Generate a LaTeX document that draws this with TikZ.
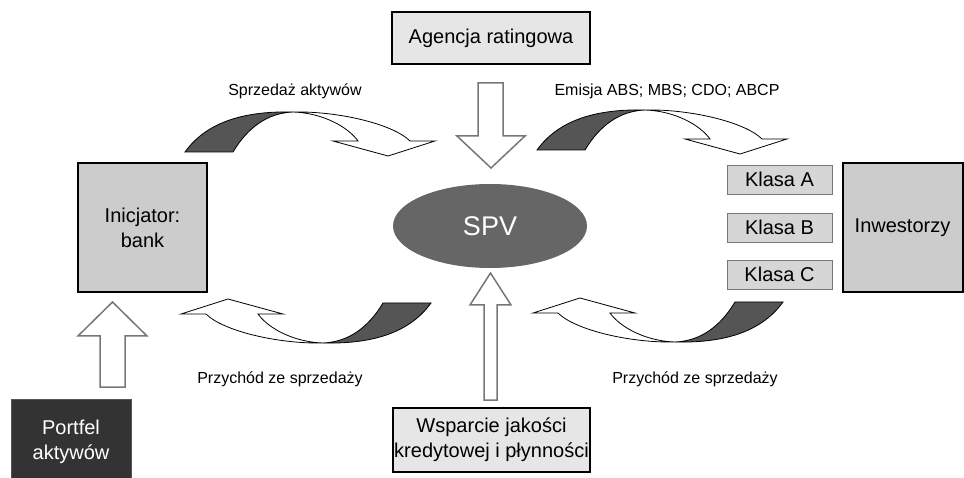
\documentclass[tikz,border=0pt]{standalone}
\usepackage{fontspec}
\setmainfont{Liberation Sans}
\usetikzlibrary{shapes.geometric}
\definecolor{boxlight}{HTML}{E6E6E6}
\definecolor{boxmid}{HTML}{CCCCCC}
\definecolor{klasafill}{HTML}{D6D6D6}
\definecolor{spvfill}{HTML}{666666}
\definecolor{portfelfill}{HTML}{333333}
\definecolor{ribbondark}{HTML}{555555}
\definecolor{arrowgray}{HTML}{777777}
\begin{document}
\begin{tikzpicture}[x=1pt,y=-1pt,
  boxtext/.style={font=\fontsize{20}{25}\selectfont, align=center, inner sep=0pt},
  bigbox/.style={boxtext, draw=black, line width=2pt, fill=boxmid},
  lightbox/.style={boxtext, draw=black, line width=1.6pt, fill=boxlight},
  klasabox/.style={boxtext, draw=arrowgray, line width=0.9pt, fill=klasafill, minimum width=105pt, minimum height=29pt},
  lbl/.style={font=\fontsize{16}{19}\selectfont, inner sep=0pt},
  blockarrow/.style={draw=arrowgray, line width=1.5pt, fill=white, line join=miter},
  ribbon/.pic={
    \filldraw[fill=ribbondark, draw=black, line width=0.8pt]
      (-108,40) .. controls (-85,8) and (-45,-1) .. (0,0)
      .. controls (-25,1) and (-45,15) .. (-60,40) -- cycle;
    \filldraw[fill=white, draw=black, line width=0.8pt, line join=miter]
      (0,0) .. controls (45,-1) and (100,12) .. (117,29)
      -- (142,29) -- (95,44) -- (40,29) -- (65,29)
      .. controls (55,15) and (30,1) .. (0,0) -- cycle;
  }]
\clip (0,0) rectangle (964,478);
\fill[white] (0,0) rectangle (964,478);

% ribbon arrows
\pic at (293,112) {ribbon};
\pic at (645,110) {ribbon};
\pic[rotate=180] at (323,343) {ribbon};
\pic[rotate=180] at (675,342) {ribbon};

% nodes
\node[lightbox, minimum width=198pt, minimum height=52pt] (agencja) at (491,38) {Agencja ratingowa};
\node[lightbox, minimum width=197pt, minimum height=64pt] (wsparcie) at (491.5,440) {Wsparcie jakości\\kredytowej i płynności};
\node[bigbox, minimum width=129pt, minimum height=129pt] (inicjator) at (142.5,227.5) {Inicjator:\\bank};
\node[bigbox, minimum width=120pt, minimum height=129pt] (inwestorzy) at (902.5,227.5) {Inwestorzy};
\node[klasabox] (ka) at (779.5,179.5) {Klasa A};
\node[klasabox] (kb) at (779.5,227.5) {Klasa B};
\node[klasabox] (kc) at (779.5,274.5) {Klasa C};
\node[boxtext, draw=ribbondark, line width=1pt, fill=portfelfill, text=white, minimum width=120pt, minimum height=86pt] (portfel) at (71,442) {Portfel\\aktywów};
\node[ellipse, fill=spvfill, text=white, inner sep=0pt, minimum width=194pt, minimum height=84pt, font=\fontsize{27}{30}\selectfont] (spv) at (490,226) {SPV};

% block arrows
\filldraw[blockarrow] (478,83) -- (503,83) -- (503,136) -- (525,136) -- (491,168) -- (457,136) -- (478,136) -- cycle;
\filldraw[blockarrow] (484,400) -- (497,400) -- (497,305) -- (511,305) -- (490.5,273) -- (470,305) -- (484,305) -- cycle;
\filldraw[blockarrow] (100,387) -- (125,387) -- (125,336) -- (147,336) -- (112.5,302) -- (78,336) -- (100,336) -- cycle;

% labels
\node[lbl] (l1) at (295,91) {Sprzedaż aktywów};
\node[lbl] (l2) at (667,91) {Emisja ABS; MBS; CDO; ABCP};
\node[lbl] (l3) at (280,379) {Przychód ze sprzedaży};
\node[lbl] (l4) at (695,379) {Przychód ze sprzedaży};
\end{tikzpicture}
\end{document}
